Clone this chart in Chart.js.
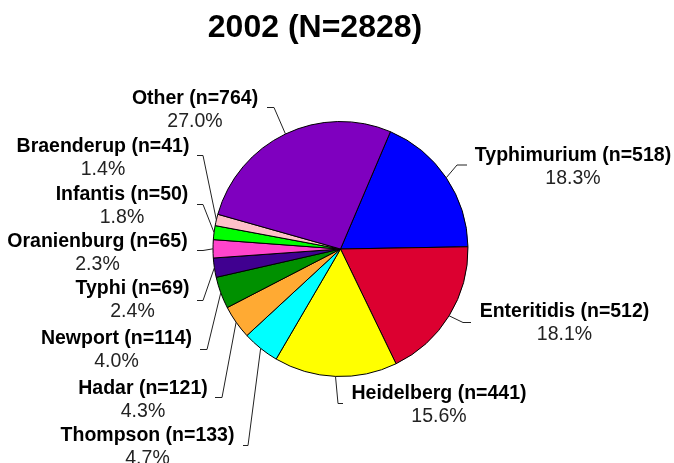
<!DOCTYPE html>
<html>
<head>
<meta charset="utf-8">
<script src="https://cdn.jsdelivr.net/npm/chart.js@4"></script>
<style>
  html, body { margin: 0; padding: 0; background: #fff; }
  #wrap { width: 674px; height: 463px; position: relative; }
</style>
</head>
<body>
<div id="wrap"><canvas id="pie"></canvas></div>
<script>
// data (clockwise, starting at Typhimurium)
const serotypes = ['Typhimurium', 'Enteritidis', 'Heidelberg', 'Thompson', 'Hadar', 'Newport',
                   'Typhi', 'Oranienburg', 'Infantis', 'Braenderup', 'Other'];
const counts = [518, 512, 441, 133, 121, 114, 69, 65, 50, 41, 764];
const percents = ['18.3%', '18.1%', '15.6%', '4.7%', '4.3%', '4.0%', '2.4%', '2.3%', '1.8%', '1.4%', '27.0%'];
const sliceColors = ['#0000FF', '#DC0030', '#FFFF00', '#00FFFF', '#FFAA33', '#009000',
                     '#400090', '#FF44CC', '#00FF00', '#FFC0C8', '#7F00BF'];
const titleText = '2002 (N=2828)';

// label layout: text centre x, cap top y, leader elbow and end
const labelPos = [
    { x: 573,   y: 147,   elbow: [457, 165],   end: [467, 165] },
    { x: 564.5, y: 303,   elbow: [463, 322.5], end: [471, 322.5] },
    { x: 439,   y: 385,   elbow: [338, 403.5], end: [343, 403.5] },
    { x: 147.5, y: 426.5, elbow: [248, 445.5], end: [243, 445.5] },
    { x: 143,   y: 380,   elbow: [222, 397.5], end: [215, 397.5] },
    { x: 116.5, y: 330,   elbow: [207, 349.5], end: [200, 349.5] },
    { x: 132.5, y: 280,   elbow: [203, 300.5], end: [197, 300.5] },
    { x: 97.5,  y: 232.5, elbow: [203, 250.5], end: [197, 250.5] },
    { x: 122,   y: 186,   elbow: [203, 204.5], end: [197, 204.5] },
    { x: 103,   y: 138,   elbow: [203, 155.5], end: [197, 155.5] },
    { x: 195,   y: 90,    elbow: [274, 107.5], end: [267, 107.5] }
];

const total = counts.reduce((a, b) => a + b, 0);
const startRotation = 90 - 360 * counts[0] / total - 1;

// Draw title and outside labels with leader lines
const labelPlugin = {
    id: 'outsideLabels',
    afterDraw(chart) {
        const ctx = chart.ctx;
        ctx.save();
        ctx.fillStyle = '#000';
        ctx.font = 'bold 32px "Liberation Sans", Arial, sans-serif';
        ctx.textAlign = 'center';
        ctx.textBaseline = 'alphabetic';
        ctx.fillText(titleText, 315, 36.5);

        const arcs = chart.getDatasetMeta(0).data;
        arcs.forEach((arc, i) => {
            const p = arc.getProps(['x', 'y', 'startAngle', 'endAngle', 'outerRadius'], true);
            const mid = (p.startAngle + p.endAngle) / 2;
            const sx = p.x + Math.cos(mid) * p.outerRadius;
            const sy = p.y + Math.sin(mid) * p.outerRadius;
            const lp = labelPos[i];

            ctx.strokeStyle = '#222';
            ctx.lineWidth = 1;
            ctx.beginPath();
            ctx.moveTo(sx, sy);
            ctx.lineTo(lp.elbow[0], lp.elbow[1]);
            ctx.lineTo(lp.end[0], lp.end[1]);
            ctx.stroke();

            ctx.textAlign = 'center';
            ctx.fillStyle = '#000';
            ctx.font = 'bold 19.5px "Liberation Sans", Arial, sans-serif';
            ctx.fillText(serotypes[i] + ' (n=' + counts[i] + ')', lp.x, lp.y + 14);
            ctx.fillStyle = '#222';
            ctx.font = '19.5px "Liberation Sans", Arial, sans-serif';
            ctx.fillText(percents[i], lp.x, lp.y + 37);
        });
        ctx.restore();
    }
};

new Chart(document.getElementById('pie'), {
    type: 'pie',
    data: {
        labels: serotypes,
        datasets: [{
            data: counts,
            backgroundColor: sliceColors,
            borderColor: '#000',
            borderWidth: 1
        }]
    },
    options: {
        responsive: true,
        maintainAspectRatio: false,
        animation: false,
        rotation: startRotation,
        layout: { padding: { left: 212, right: 205, top: 121, bottom: 86 } },
        plugins: {
            legend: { display: false },
            tooltip: { enabled: false },
            title: { display: false }
        }
    },
    plugins: [labelPlugin]
});
</script>
</body>
</html>
